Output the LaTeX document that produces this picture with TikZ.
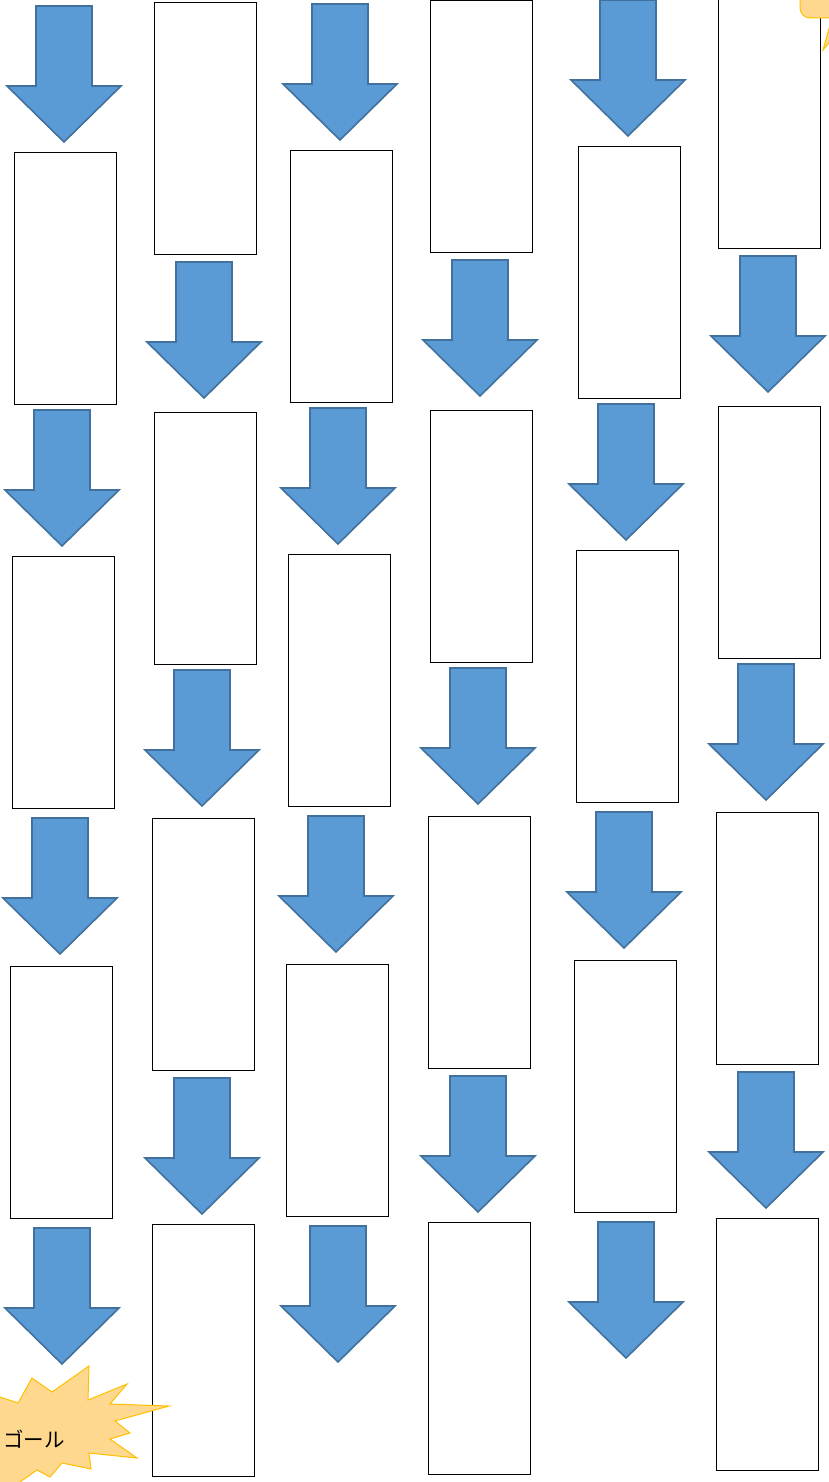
\documentclass[tikz,border=0pt]{standalone}
\usepackage{fontspec}
\newfontfamily\jpfont{Noto Sans CJK JP}
\usetikzlibrary{positioning}
\definecolor{arrowblue}{HTML}{5B9BD5}
\definecolor{arrowline}{HTML}{41719C}
\definecolor{goalfill}{HTML}{FFD88F}
\definecolor{goalline}{HTML}{FFC000}
\tikzset{
  cell/.style={draw=black, line width=0.8pt, minimum width=102pt, minimum height=252pt, inner sep=0pt, anchor=north west},
  blockarrow/.style={draw=arrowline, fill=arrowblue, line width=1.6pt, line join=miter},
  goal/.style={draw=goalline, fill=goalfill, line width=1pt},
  goaltext/.style={font=\jpfont\fontsize{20.5}{20.5}\selectfont, inner sep=0pt},
  downarrow/.pic={\path[blockarrow] (-28,0) -- (28,0) -- (28,80) -- (57,80) -- (0,136) -- (-57,80) -- (-28,80) -- cycle;}
}

\begin{document}
\begin{tikzpicture}[x=1pt, y=-1pt]
\useasboundingbox (0,0) rectangle (829,1482);
\clip (0,0) rectangle (829,1482);
\node[cell] (c1b1) at (14,152) {};
\node[cell] (c1b2) at (12,556) {};
\node[cell] (c1b3) at (10,966) {};
\node[cell] (c2b1) at (154,2) {};
\node[cell] (c2b2) at (154,412) {};
\node[cell] (c2b3) at (152,818) {};
\node[cell] (c2b4) at (152,1224) {};
\node[cell] (c3b1) at (290,150) {};
\node[cell] (c3b2) at (288,554) {};
\node[cell] (c3b3) at (286,964) {};
\node[cell] (c4b1) at (430,0) {};
\node[cell] (c4b2) at (430,410) {};
\node[cell] (c4b3) at (428,816) {};
\node[cell] (c4b4) at (428,1222) {};
\node[cell] (c5b1) at (578,146) {};
\node[cell] (c5b2) at (576,550) {};
\node[cell] (c5b3) at (574,960) {};
\node[cell] (c6b1) at (718,-4) {};
\node[cell] (c6b2) at (718,406) {};
\node[cell] (c6b3) at (716,812) {};
\node[cell] (c6b4) at (716,1218) {};
\pic (c1a1) at (64,6) {downarrow};
\pic (c1a2) at (62,410) {downarrow};
\pic (c1a3) at (60,818) {downarrow};
\pic (c1a4) at (62,1228) {downarrow};
\pic (c2a1) at (204,262) {downarrow};
\pic (c2a2) at (202,670) {downarrow};
\pic (c2a3) at (202,1078) {downarrow};
\pic (c3a1) at (340,4) {downarrow};
\pic (c3a2) at (338,408) {downarrow};
\pic (c3a3) at (336,816) {downarrow};
\pic (c3a4) at (338,1226) {downarrow};
\pic (c4a1) at (480,260) {downarrow};
\pic (c4a2) at (478,668) {downarrow};
\pic (c4a3) at (478,1076) {downarrow};
\pic (c5a1) at (628,0) {downarrow};
\pic (c5a2) at (626,404) {downarrow};
\pic (c5a3) at (624,812) {downarrow};
\pic (c5a4) at (626,1222) {downarrow};
\pic (c6a1) at (768,256) {downarrow};
\pic (c6a2) at (766,664) {downarrow};
\pic (c6a3) at (766,1072) {downarrow};
\draw[goal] (800,-20) [rounded corners=10pt] -- (800,18) [sharp corners] -- (832,18) -- (823,50) -- (850,18) -- (900,18) -- (900,-20) -- cycle;
\draw[goal] (-20,1392) -- (0,1397) -- (18,1403) -- (32,1378) -- (52,1392) -- (89,1366) -- (88,1400) -- (127,1384) -- (110,1404) -- (169,1406) -- (115,1421) -- (130,1433) -- (110,1439) -- (137,1458) -- (89,1453) -- (91,1469) -- (62,1463) -- (50,1477) -- (37,1470) -- (20,1482) -- (10,1500) -- (-20,1500) -- cycle;
\node[goaltext] (goal) at (34,1439) {ゴール};
\end{tikzpicture}
\end{document}
